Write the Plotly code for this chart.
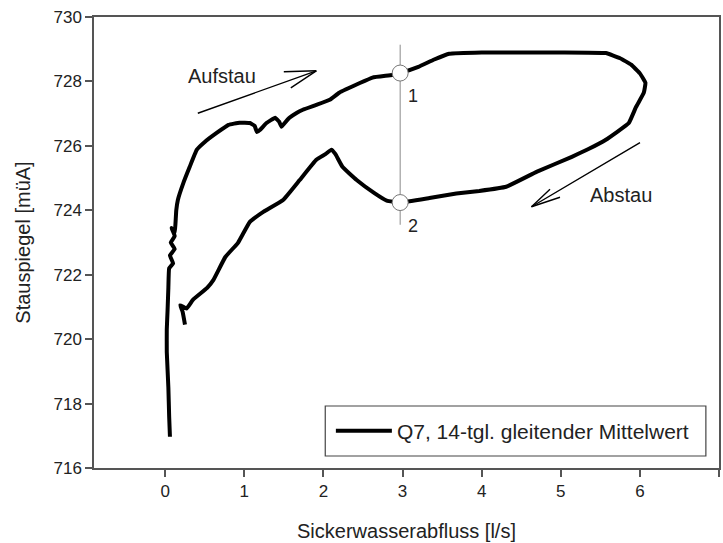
import plotly.graph_objects as go

# ---- data ----
q_flow = [0.06, 0.05, 0.04, 0.02, 0.02, 0.03, 0.04, 0.05,
          0.10, 0.06, 0.12, 0.07, 0.12, 0.08, 0.12, 0.13, 0.14, 0.16,
          0.23, 0.31, 0.40, 0.50, 0.65, 0.80, 0.94, 1.07, 1.13, 1.16, 1.20,
          1.28, 1.39, 1.44, 1.47, 1.50, 1.57, 1.66, 1.74, 1.91, 2.08, 2.20,
          2.46, 2.62, 2.87, 2.97, 3.20, 3.40, 3.59, 4.00, 4.50, 5.00, 5.57,
          5.75, 5.89, 6.00, 6.07, 6.05, 5.95, 5.86, 5.57, 5.35, 5.14, 4.70,
          4.31, 3.97, 3.68, 3.34, 2.97, 2.80, 2.64, 2.42, 2.24, 2.15, 2.10,
          2.03, 1.91, 1.70, 1.49, 1.24, 1.07, 0.92, 0.76, 0.61, 0.53, 0.35,
          0.27, 0.19, 0.22, 0.25]
stau = [716.97, 717.6, 718.5, 719.6, 720.3, 720.9, 721.6, 722.2,
        722.35, 722.6, 722.8, 723.0, 723.2, 723.45, 723.3, 723.6, 724.0, 724.32,
        724.85, 725.35, 725.88, 726.12, 726.40, 726.65, 726.72, 726.71, 726.62, 726.43, 726.50,
        726.71, 726.87, 726.75, 726.59, 726.68, 726.87, 727.02, 727.12, 727.27, 727.43, 727.65,
        727.95, 728.12, 728.20, 728.26, 728.45, 728.68, 728.86, 728.9, 728.9, 728.9, 728.88,
        728.72, 728.52, 728.25, 727.96, 727.65, 727.2, 726.71, 726.19, 725.9, 725.66, 725.2,
        724.73, 724.6, 724.52, 724.38, 724.24, 724.3, 724.54, 724.94, 725.35, 725.75, 725.88,
        725.75, 725.57, 724.94, 724.32, 723.95, 723.64, 722.99, 722.55, 721.84, 721.59, 721.22,
        720.95, 721.05, 720.85, 720.45]

ref_x = [2.97, 2.97]
ref_line_y = [723.55, 729.14]
ref_point_y = [728.26, 724.24]
ref_labels = ["1", "2"]

x_ticks = [0, 1, 2, 3, 4, 5, 6, 7]
y_ticks = [716, 718, 720, 722, 724, 726, 728, 730]

FONT = "Liberation Sans, Arial, sans-serif"
AX = "#555555"
TXT = "#222222"

fig = go.Figure()

fig.add_trace(go.Scatter(
    x=q_flow, y=stau, mode="lines",
    line=dict(color="black", width=4, shape="spline", smoothing=0.3),
    name="Q7, 14-tgl. gleitender Mittelwert"))

fig.add_trace(go.Scatter(
    x=ref_x, y=ref_line_y, mode="lines",
    line=dict(color="#8a8a8a", width=1), showlegend=False, hoverinfo="skip"))

fig.add_trace(go.Scatter(
    x=ref_x, y=ref_point_y, mode="markers",
    marker=dict(size=16, color="white", line=dict(color="#777777", width=1)),
    showlegend=False))

annos = []
for yy, lab in zip(ref_point_y, ref_labels):
    annos.append(dict(x=ref_x[0], y=yy, text=lab, showarrow=False,
                      xshift=13, yshift=-23, font=dict(size=18, color=TXT, family=FONT)))

annos.append(dict(x=0.72, y=728.17, text="Aufstau", showarrow=False,
                  font=dict(size=20, color=TXT, family=FONT)))
annos.append(dict(x=5.76, y=724.48, text="Abstau", showarrow=False,
                  font=dict(size=20, color=TXT, family=FONT)))

def arrow(tip_x, tip_y, tail, heads):
    out = []
    for off in [tail] + heads:
        out.append(dict(x=tip_x, y=tip_y, ax=off[0], ay=off[1], text="",
                        showarrow=True, arrowhead=0, arrowwidth=1.4,
                        arrowcolor="black", standoff=0, startstandoff=0))
    return out

annos += arrow(1.91, 728.33, (-120, 43), [(-34, 1), (-27, 18)])
annos += arrow(4.63, 724.11, (110, -65), [(30, -10), (20, -19)])

fig.update_layout(
    width=723, height=543,
    margin=dict(l=94, r=2, t=17, b=75),
    paper_bgcolor="white", plot_bgcolor="white",
    font=dict(family=FONT, color=TXT),
    showlegend=True,
    legend=dict(x=0.379, xanchor="left", y=0.082, yanchor="middle",
                bgcolor="rgba(0,0,0,0)", borderwidth=0,
                font=dict(size=21, color=TXT, family=FONT), itemwidth=56),
    shapes=[dict(type="rect", xref="paper", yref="paper",
                 x0=0.370, x1=0.979, y0=0.0266, y1=0.1375,
                 line=dict(color="#444444", width=1.2), fillcolor="rgba(0,0,0,0)")],
    annotations=annos,
)

fig.update_xaxes(
    range=[-0.9, 7], tickvals=x_ticks, ticktext=[str(t) for t in x_ticks],
    showgrid=False, zeroline=False, showline=True, linecolor=AX, linewidth=1.5,
    mirror=True, ticks="outside", ticklen=7, tickcolor=AX, tickwidth=1.5,
    tickfont=dict(size=17, color=TXT, family=FONT),
    title=dict(text="Sickerwasserabfluss [l/s]", font=dict(size=20, color=TXT, family=FONT), standoff=24),
)
fig.update_yaxes(
    range=[716, 730], tickvals=y_ticks, ticktext=[str(t) for t in y_ticks],
    showgrid=False, zeroline=False, showline=True, linecolor=AX, linewidth=1.5,
    mirror=True, ticks="outside", ticklen=7, tickcolor=AX, tickwidth=1.5,
    tickfont=dict(size=17, color=TXT, family=FONT),
    title=dict(text="Stauspiegel [müA]", font=dict(size=20, color=TXT, family=FONT), standoff=17),
)

fig.write_html("out.html")
